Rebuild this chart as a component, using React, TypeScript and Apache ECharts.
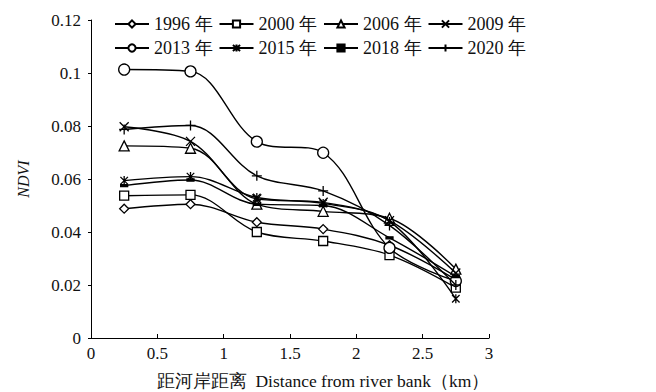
import React, { useEffect, useRef } from "react";
import * as echarts from "echarts";

const distances = [0.25, 0.75, 1.25, 1.75, 2.25, 2.75];
const years = ["1996 年", "2000 年", "2006 年", "2009 年", "2013 年", "2015 年", "2018 年", "2020 年"];
const v1996 = [0.0488, 0.0505, 0.0437, 0.0411, 0.035, 0.022];
const v2000 = [0.0537, 0.054, 0.0400, 0.0366, 0.0313, 0.019];
const v2006 = [0.0725, 0.0716, 0.0505, 0.0478, 0.0452, 0.026];
const v2009 = [0.0797, 0.0742, 0.0525, 0.0512, 0.0443, 0.0245];
const v2013 = [0.1013, 0.1006, 0.0741, 0.0699, 0.0340, 0.0215];
const v2015 = [0.0594, 0.0609, 0.0530, 0.0508, 0.0440, 0.0148];
const v2018 = [0.0575, 0.0596, 0.0505, 0.0500, 0.0378, 0.0232];
const v2020 = [0.0787, 0.0802, 0.0612, 0.0555, 0.0425, 0.0200];
const yTicks = { min: 0, max: 0.12, interval: 0.02 };
const xTicks = { min: 0, max: 3, interval: 0.5 };

const X_PATH = "path://M0,0L10,10M10,0L0,10";
const PLUS_PATH = "path://M5,0L5,10M0,5L10,5";
const AST_PATH = "path://M0,0L10,10M10,0L0,10M5,-1L5,11";
const DASH_PATH = "path://M0,0L10,0L10,3L0,3Z";

const serif = "Liberation Serif";

export default function App() {
  const ref = useRef<HTMLDivElement>(null);
  useEffect(() => {
    const chart = echarts.init(ref.current!, null, { renderer: "svg" });
    const all = [v1996, v2000, v2006, v2009, v2013, v2015, v2018, v2020];
    const symbols: any[] = ["diamond", "rect", "triangle", X_PATH, "circle", AST_PATH, DASH_PATH, PLUS_PATH];
    const sizes: any[] = [9, 9, 10, 9, 11, 9, 7, 10];
    const fills = ["#fff", "#fff", "#fff", "#fff", "#fff", "#000", "#000", "#fff"];
    const series = all.map((vals, i) => ({
      name: years[i],
      type: "line",
      smooth: 0.35,
      data: distances.map((d, j) => [d, vals[j]]),
      symbol: symbols[i],
      symbolSize: sizes[i],
      symbolKeepAspect: true,
      showAllSymbol: true,
      lineStyle: { color: "#000", width: 1.4 },
      itemStyle: { color: fills[i], borderColor: "#000", borderWidth: 1.3 },
      z: 2 + i,
    }));
    const legendBase = {
      left: 109,
      orient: "horizontal",
      itemWidth: 34,
      itemHeight: 9,
      itemGap: 6,
      symbolKeepAspect: true,
      textStyle: { fontFamily: serif, fontSize: 18, color: "#111" },
    };
    chart.setOption({
      animation: false,
      backgroundColor: "#fff",
      textStyle: { fontFamily: serif },
      legend: [
        { ...legendBase, top: 10, data: years.slice(0, 4) },
        { ...legendBase, top: 34, data: years.slice(4) },
      ],
      grid: { left: 91, right: 167, top: 20, bottom: 54, containLabel: false, outerBoundsMode: "none" },
      xAxis: {
        type: "value",
        min: xTicks.min,
        max: xTicks.max,
        interval: xTicks.interval,
        name: "距河岸距离  Distance from river bank（km）",
        nameLocation: "middle",
        nameGap: 34,
        nameTextStyle: { fontFamily: serif, fontSize: 17.5, color: "#111", padding: [0, 0, 0, 66] },
        axisLine: { lineStyle: { color: "#000", width: 1 } },
        axisTick: { inside: true, length: 4, lineStyle: { color: "#000" } },
        axisLabel: { fontFamily: serif, fontSize: 17, color: "#111", margin: 7 },
        splitLine: { show: false },
      },
      yAxis: {
        type: "value",
        min: yTicks.min,
        max: yTicks.max,
        interval: yTicks.interval,
        name: "NDVI",
        nameLocation: "middle",
        nameGap: 60,
        nameTextStyle: { fontFamily: serif, fontSize: 16, fontStyle: "italic", color: "#111" },
        axisLine: { show: true, lineStyle: { color: "#000", width: 1 } },
        axisTick: { show: true, length: 3, lineStyle: { color: "#000" } },
        axisLabel: { fontFamily: serif, fontSize: 17, color: "#111", margin: 10 },
        splitLine: { show: false },
      },
      series,
    });
    return () => chart.dispose();
  }, []);
  return <div ref={ref} style={{ position: "absolute", left: 0, top: 0, width: 656, height: 392 }} />;
}
